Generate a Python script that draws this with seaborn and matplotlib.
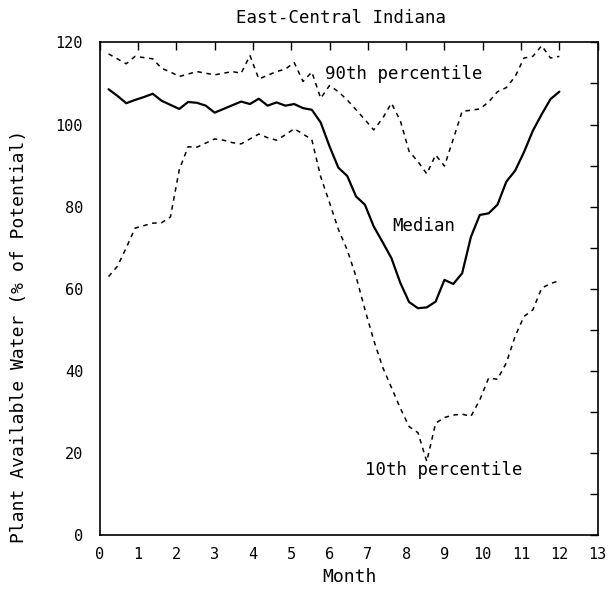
import numpy as np
import pandas as pd
import seaborn as sns
import matplotlib
matplotlib.use('Agg')
import matplotlib.pyplot as plt
from matplotlib.ticker import MultipleLocator

# weekly values, week 1..52 of the year
weeks = list(range(1, 53))

p90 = [117.2, 116.0, 114.8, 116.6, 116.3, 116.0, 113.7, 112.8, 111.7, 112.3,
       112.9, 112.5, 112.1, 112.5, 112.9, 112.5, 116.8, 111.1, 112.0, 112.9,
       113.5, 115.1, 110.5, 112.8, 106.4, 109.5, 108.0, 106.0, 103.6, 101.2,
       98.7, 101.5, 105.2, 101.0, 93.5, 91.0, 88.0, 92.6, 89.9, 96.5,
       103.2, 103.5, 103.8, 105.5, 108.0, 109.0, 111.7, 116.2, 116.6, 119.2,
       116.2, 116.6]

median = [108.6, 107.0, 105.2, 106.0, 106.7, 107.5, 105.8, 104.8, 103.8, 105.5,
          105.3, 104.6, 102.9, 103.8, 104.7, 105.6, 105.0, 106.3, 104.6, 105.4,
          104.6, 105.0, 104.0, 103.6, 100.5, 94.7, 89.5, 87.5, 82.5, 80.5,
          75.2, 71.4, 67.5, 61.5, 56.8, 55.3, 55.5, 56.9, 62.2, 61.2,
          63.8, 72.7, 78.0, 78.4, 80.5, 86.1, 88.8, 93.3, 98.5, 102.5,
          106.2, 108.0]

p10 = [63.0, 65.5, 70.0, 74.8, 75.4, 76.0, 76.1, 77.5, 89.0, 94.6,
       94.5, 95.5, 96.5, 96.2, 95.6, 95.3, 96.5, 97.7, 96.8, 96.2,
       97.5, 99.0, 97.7, 96.3, 87.3, 81.0, 74.5, 69.5, 63.0, 55.0,
       47.5, 41.0, 36.0, 31.0, 26.5, 25.0, 18.0, 27.3, 28.7, 29.3,
       29.5, 29.0, 33.0, 38.3, 38.0, 42.0, 48.5, 53.3, 54.9, 60.2,
       61.3, 62.0]

df = pd.DataFrame({'Week': weeks, 'p90': p90, 'Median': median, 'p10': p10})
df['Month'] = df['Week'] * 12 / 52

sns.set_style('white')
plt.rcParams['font.family'] = ['DejaVu Sans Mono']
plt.rcParams['text.color'] = 'black'
plt.rcParams['axes.labelcolor'] = 'black'

fig = plt.figure(figsize=(6.08, 5.89), dpi=100)
ax = fig.add_axes([0.164, 0.091, 0.819, 0.837])

sns.lineplot(x='Month', y='p90', data=df, color='black', lw=1.1,
             linestyle=(0, (3, 3)), ax=ax)
sns.lineplot(x='Month', y='Median', data=df, color='black', lw=1.6, ax=ax)
sns.lineplot(x='Month', y='p10', data=df, color='black', lw=1.1,
             linestyle=(0, (3, 3)), ax=ax)

ax.set_xlim(0, 13)
ax.set_ylim(0, 120)
ax.xaxis.set_major_locator(MultipleLocator(1))
ax.yaxis.set_major_locator(MultipleLocator(20))
ax.yaxis.set_minor_locator(MultipleLocator(10))
ax.tick_params(which='both', direction='in', length=6, width=1,
               top=True, right=True, labelsize=11, pad=8, colors='black')
ax.tick_params(axis='y', pad=12)
for s in ax.spines.values():
    s.set_linewidth(1.2)
    s.set_color('black')

ax.set_xlabel('')
ax.set_ylabel('')
fig.text(349 / 608, 1 - 577 / 589, 'Month', fontsize=13,
         ha='center', va='center', color='black')
fig.text(19 / 608, 1 - 336 / 589, 'Plant Available Water (% of Potential)',
         fontsize=13, rotation=90, ha='center', va='center', color='black')

ax.text(7.95, 112.2, '90th percentile', fontsize=12.5, ha='center', va='center', color='black')
ax.text(8.45, 75.2, 'Median', fontsize=12.5, ha='center', va='center', color='black')
ax.text(8.97, 15.9, '10th percentile', fontsize=12.5, ha='center', va='center', color='black')

fig.text(341 / 608, 1 - 18 / 589, 'East-Central Indiana', fontsize=12.5,
         ha='center', va='center', color='black')

fig.savefig('out.png', dpi=100)
